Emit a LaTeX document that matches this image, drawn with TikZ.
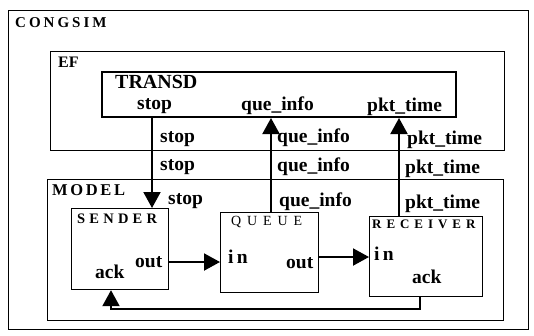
\documentclass[tikz,border=0pt]{standalone}
\usepackage{fontspec}
\setmainfont{Liberation Serif}
\usetikzlibrary{arrows.meta}
\newcommand\lsp[2]{{\addfontfeature{LetterSpace=#1}#2}}
\begin{document}
\begin{tikzpicture}[x=1pt,y=-1pt,
  frame/.style={draw, inner sep=0pt, anchor=north west, line width=1pt},
  port/.style={inner sep=0pt, anchor=base west, font=\bfseries\fontsize{19.5}{20}\selectfont},
  title/.style={inner sep=0pt, anchor=base west},
  conn/.style={line width=2pt},
  tip/.style={-{Triangle[length=16pt,width=17pt]}}]
\useasboundingbox (0,0) rectangle (534,335);
% boxes
\node[frame, minimum width=520, minimum height=319] (congsim) at (8,10) {};
\node[frame, line width=1.4pt, minimum width=454, minimum height=99] (ef) at (50,51) {};
\node[frame, line width=2pt, minimum width=354, minimum height=45] (transd) at (101,71) {};
\node[frame, minimum width=456, minimum height=141] (model) at (47,179) {};
\node[frame, line width=1.2pt, minimum width=97, minimum height=81] (sender) at (71,208) {};
\node[frame, line width=1.2pt, minimum width=98, minimum height=80] (queue) at (220,212) {};
\node[frame, line width=1.2pt, minimum width=113, minimum height=80] (receiver) at (369,216) {};
% titles
\node[title, font=\bfseries\fontsize{15}{15}\selectfont] (tcongsim) at (15,27) {\lsp{20}{CONGSIM}};
\node[title, font=\bfseries\fontsize{16}{16}\selectfont] (tef) at (58,67) {EF};
\node[title, font=\bfseries\fontsize{20}{20}\selectfont] (ttransd) at (115,88) {TRANSD};
\node[title, font=\bfseries\fontsize{16.5}{16.5}\selectfont] (tmodel) at (52,195) {\lsp{16}{MODEL}};
\node[title, font=\bfseries\fontsize{14.5}{14.5}\selectfont] (tsender) at (77,223) {\lsp{29}{SENDER}};
\node[title, font=\fontsize{14}{14}\selectfont] (tqueue) at (231,225) {\lsp{42}{QUEUE}};
\node[title, font=\bfseries\fontsize{13}{13}\selectfont] (treceiver) at (372,228) {\lsp{38}{RECEIVER}};
% ports of TRANSD
\node[port] (pstop) at (137,109) {stop};
\node[port] (pque) at (241,110) {que\_info};
\node[port] (ppkt) at (367,111) {pkt\_time};
% ports of blocks
\node[port] (sout) at (135,267) {out};
\node[port] (sack) at (95,278) {ack};
\node[port] (qin) at (228,263) {i\,n};
\node[port] (qout) at (286,268) {out};
\node[port] (rin) at (374,260) {i\,n};
\node[port] (rack) at (412,283) {ack};
% labels along connectors
\node[port] (ls1) at (160,142) {stop};
\node[port] (ls2) at (160,170) {stop};
\node[port] (ls3) at (168,204) {stop};
\node[port] (lq1) at (277,142) {que\_info};
\node[port] (lq2) at (277,171) {que\_info};
\node[port] (lq3) at (279,206) {que\_info};
\node[port] (lp1) at (407,144) {pkt\_time};
\node[port] (lp2) at (405,173) {pkt\_time};
\node[port] (lp3) at (405,208) {pkt\_time};
% connectors
\coordinate (xs) at (152,0);
\coordinate (xq) at (271,0);
\coordinate (xp) at (399,0);
\coordinate (ya) at (0,262);
\coordinate (yb) at (0,257);
\coordinate (yc) at (0,309);
\coordinate (xr) at (420,0);
\coordinate (xl) at (111,0);
\draw[conn,tip] (xs |- transd.south) -- (xs |- sender.north);
\draw[conn,tip] (xq |- queue.north) -- (xq |- transd.south);
\draw[conn,tip] (xp |- receiver.north) -- (xp |- transd.south);
\draw[conn,tip] (sender.east |- ya) -- (queue.west |- ya);
\draw[conn,tip] (queue.east |- yb) -- (receiver.west |- yb);
\draw[conn,tip] (xr |- receiver.south) -- (xr |- yc) -- (xl |- yc) -- (xl |- sender.south);
\end{tikzpicture}
\end{document}
